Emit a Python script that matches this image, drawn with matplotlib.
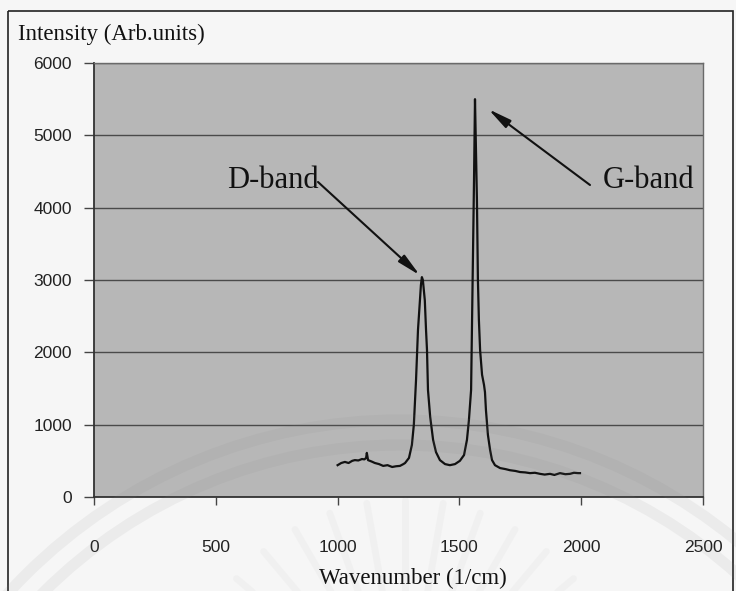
import numpy as np
import matplotlib
matplotlib.use("Agg")
import matplotlib.pyplot as plt
from matplotlib.patches import Arc, Rectangle

# Raman spectrum (wavenumber in 1/cm, intensity in arbitrary units)
wavenumber = [1000, 1015, 1030, 1045, 1060, 1071, 1085, 1100, 1110, 1117, 1120, 1125,
              1140, 1153, 1170, 1187, 1205, 1224, 1240, 1256, 1270, 1277, 1293, 1305,
              1313, 1322, 1330, 1338, 1342, 1346, 1350, 1354, 1358, 1363, 1367, 1371,
              1380, 1392, 1404, 1420, 1441, 1461, 1482, 1502, 1519, 1531, 1539, 1548,
              1552, 1556, 1560, 1564, 1568, 1572, 1576, 1580, 1585, 1593, 1601, 1605,
              1609, 1617, 1626, 1634, 1646, 1667, 1690, 1708, 1730, 1749, 1770, 1790,
              1810, 1831, 1850, 1872, 1890, 1913, 1935, 1954, 1970, 1987, 1995]
intensity = [440, 470, 485, 470, 500, 510, 505, 525, 520, 540, 610, 510,
             490, 470, 455, 430, 440, 415, 425, 430, 455, 470, 540, 720,
             1000, 1620, 2310, 2720, 2930, 3040, 3000, 2860, 2720, 2310, 2030, 1480,
             1110, 790, 620, 510, 455, 440, 455, 500, 580, 790, 1060, 1480,
             2450, 3410, 4380, 5500, 4800, 4100, 3000, 2450, 2030, 1690, 1550, 1450,
             1200, 860, 650, 510, 440, 400, 385, 370, 360, 345, 340, 330,
             335, 320, 310, 320, 305, 330, 315, 320, 335, 330, 330]

x_ticks = [0, 500, 1000, 1500, 2000, 2500]
y_ticks = [0, 1000, 2000, 3000, 4000, 5000, 6000]

d_band_peak = (1346, 3040)
g_band_peak = (1564, 5500)

W, H = 736, 591
fig = plt.figure(figsize=(W / 100, H / 100), dpi=100)
fig.patch.set_facecolor("#f6f6f6")

ax = fig.add_axes([94 / W, 1 - 497 / H, (703 - 94) / W, (497 - 63) / H])
ax.set_facecolor("#b7b7b7")
ax.plot(wavenumber, intensity, color="#111111", lw=1.6, zorder=3)

ax.set_xlim(0, 2500)
ax.set_ylim(0, 6000)
ax.set_xticks(x_ticks)
ax.set_yticks(y_ticks)
ax.set_xticklabels([str(v) for v in x_ticks], fontfamily="Liberation Sans",
                   fontsize=12.5, color="#222222")
ax.set_yticklabels([str(v) for v in y_ticks], fontfamily="Liberation Sans",
                   fontsize=12.5, color="#222222")
ax.tick_params(axis="x", direction="out", length=6, width=1, pad=25, color="#444444")
ax.tick_params(axis="y", direction="out", length=7, width=1, pad=9, color="#444444")
ax.grid(axis="y", color="#4a4a4a", lw=1.0, zorder=1)
ax.set_axisbelow(True)
for side in ("left", "bottom"):
    ax.spines[side].set_color("#333333")
    ax.spines[side].set_linewidth(1.3)
for side in ("top", "right"):
    ax.spines[side].set_color("#6a6a6a")
    ax.spines[side].set_linewidth(1.0)

serif = ["Liberation Serif", "DejaVu Serif"]
arrow = dict(arrowstyle="-|>,head_length=1.4,head_width=0.28", color="#111111",
             lw=1.5, shrinkA=0, shrinkB=2)
ax.annotate("", xy=d_band_peak, xytext=(318 / W, 1 - 182 / H),
            textcoords="figure fraction", arrowprops=arrow, zorder=5)
ax.annotate("", xy=g_band_peak, xytext=(590 / W, 1 - 185 / H),
            textcoords="figure fraction", arrowprops=dict(arrow, shrinkB=12), zorder=5)
fig.text(227 / W, 1 - 180 / H, "D-band", ha="left", va="center",
         fontsize=22, fontfamily=serif, color="#111111")
fig.text(603 / W, 1 - 181 / H, "G-band", ha="left", va="center",
         fontsize=22, fontfamily=serif, color="#111111")

fig.text(18 / W, 1 - 34 / H, "Intensity (Arb.units)", ha="left", va="center",
         fontsize=16.5, fontfamily=serif, color="#111111")
fig.text(413 / W, 1 - 578 / H, "Wavenumber (1/cm)", ha="center", va="center",
         fontsize=16.5, fontfamily=serif, color="#111111")

# outer frame and faint emblem in pixel coordinates
over = fig.add_axes([0, 0, 1, 1], zorder=10)
over.set_xlim(0, W)
over.set_ylim(H, 0)
over.axis("off")
over.patch.set_alpha(0)
over.add_patch(Rectangle((8, 11), 725, 600, fill=False, ec="#222222", lw=1.2))
for r in (530, 505):
    over.add_patch(Arc((400, 950), 2 * r, 2 * r, theta1=180, theta2=360,
                       color="#808080", lw=8, alpha=0.09))
cx, cy = 405, 720
for ang in np.linspace(200, 340, 15):
    t = np.deg2rad(ang)
    r0, r1 = 95, 220
    over.plot([cx + r0 * np.cos(t), cx + r1 * np.cos(t)],
              [cy + r0 * np.sin(t), cy + r1 * np.sin(t)],
              color="#909090", lw=5, alpha=0.05, solid_capstyle="round")

fig.savefig("out.png", dpi=100, facecolor=fig.get_facecolor())
